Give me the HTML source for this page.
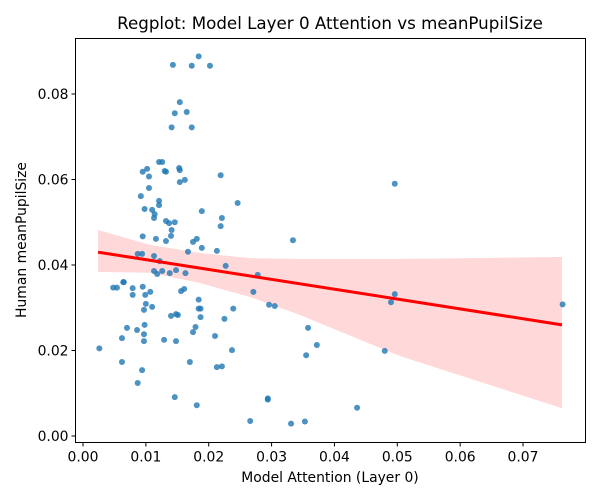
<!DOCTYPE html>
<html><head><meta charset="utf-8"><style>
body{margin:0;background:#fff;}
svg{display:block;font-family:"DejaVu Sans","Liberation Sans",sans-serif;}
</style></head><body>
<svg id="chart" width="600" height="500"></svg>
<script>
// data
const xVals=[0.0143,0.0184,0.0173,0.0202,0.0154,0.0146,0.0165,0.0141,0.0173,0.0121,0.0126,0.0102,0.0095,0.0105,0.0130,0.0132,0.0153,0.0154,0.0219,0.0154,0.0162,0.0105,0.0092,0.0121,0.0121,0.0246,0.0098,0.0110,0.0189,0.0114,0.0113,0.0221,0.0219,0.0132,0.0137,0.0146,0.0141,0.0095,0.0116,0.0140,0.0132,0.0175,0.0181,0.0189,0.0087,0.0113,0.0122,0.0167,0.0213,0.0227,0.0278,0.0094,0.0113,0.0118,0.0126,0.0148,0.0163,0.0138,0.0048,0.0054,0.0064,0.0065,0.0079,0.0079,0.0095,0.0099,0.0107,0.0100,0.0097,0.0110,0.0156,0.0161,0.0271,0.0184,0.0184,0.0187,0.0239,0.0148,0.0140,0.0151,0.0187,0.0225,0.0098,0.0070,0.0086,0.0097,0.0179,0.0175,0.0210,0.0062,0.0097,0.0129,0.0148,0.0237,0.0062,0.0170,0.0213,0.0221,0.0094,0.0087,0.0146,0.0181,0.0294,0.0266,0.0331,0.0372,0.0496,0.0296,0.0305,0.0496,0.0490,0.0763,0.0334,0.0358,0.0355,0.0480,0.0294,0.0436,0.0353,0.0026];
const yVals=[0.0868,0.0888,0.0866,0.0866,0.0781,0.0755,0.0758,0.0722,0.0722,0.0641,0.0641,0.0625,0.0618,0.0607,0.0620,0.0618,0.0627,0.0622,0.0610,0.0594,0.0599,0.0580,0.0561,0.0550,0.0540,0.0545,0.0531,0.0529,0.0526,0.0519,0.0510,0.0510,0.0491,0.0503,0.0498,0.0500,0.0482,0.0467,0.0461,0.0468,0.0456,0.0454,0.0461,0.0440,0.0426,0.0421,0.0409,0.0431,0.0433,0.0398,0.0377,0.0426,0.0386,0.0379,0.0386,0.0388,0.0381,0.0381,0.0347,0.0347,0.0360,0.0360,0.0346,0.0330,0.0349,0.0330,0.0337,0.0309,0.0295,0.0302,0.0339,0.0344,0.0337,0.0319,0.0298,0.0298,0.0298,0.0285,0.0281,0.0283,0.0278,0.0274,0.0260,0.0253,0.0248,0.0238,0.0255,0.0243,0.0234,0.0229,0.0222,0.0225,0.0222,0.0201,0.0173,0.0173,0.0161,0.0163,0.0154,0.0124,0.0091,0.0072,0.0085,0.0035,0.0029,0.0213,0.0590,0.0307,0.0304,0.0332,0.0313,0.0308,0.0458,0.0253,0.0189,0.0199,0.0088,0.0066,0.0034,0.0205];
// fitted regression line and confidence band
const fitX=[0.0024,0.0762];
const fitY=[0.0430,0.0260];
const bandX=[0.0024,0.0107,0.0186,0.0266,0.0345,0.0504,0.0762];
const bandUpper=[0.0482,0.0447,0.0428,0.0416,0.0414,0.0414,0.0419];
const bandLower=[0.0384,0.0382,0.0358,0.0325,0.0283,0.0187,0.0065];
const xTicks=[0,0.01,0.02,0.03,0.04,0.05,0.06,0.07];
const yTicks=[0,0.02,0.04,0.06,0.08];
const xTickLabels=["0.00","0.01","0.02","0.03","0.04","0.05","0.06","0.07"];
const yTickLabels=["0.00","0.02","0.04","0.06","0.08"];

const L=75.5,R=585.5,T=38.5,B=442.5;
const sx=v=>83+v*6286;
const sy=v=>436-v*4275;
const svg=document.getElementById('chart');
const NS='http://www.w3.org/2000/svg';
function mk(tag,attrs,parent){const e=document.createElementNS(NS,tag);for(const k in attrs)e.setAttribute(k,attrs[k]);(parent||svg).appendChild(e);return e;}

const up=bandX.map((x,i)=>sx(x)+','+sy(bandUpper[i]));
const lo=bandX.map((x,i)=>sx(x)+','+sy(bandLower[i])).reverse();
const band=mk('polygon',{points:up.concat(lo).join(' '),fill:'#ff0000','fill-opacity':'0.15',stroke:'none'});



const pts=mk('g',{});


for(let i=0;i<xVals.length;i++){const c=mk('circle',{cx:sx(xVals[i]),cy:sy(yVals[i]),r:3,fill:'#1f77b4','fill-opacity':'0.8'},pts);

}

const line=mk('line',{x1:sx(fitX[0]),y1:sy(fitY[0]),x2:sx(fitX[1]),y2:sy(fitY[1]),stroke:'#ff0000','stroke-width':3});



const frame=mk('rect',{x:L,y:T,width:R-L,height:B-T,fill:'none',stroke:'#000','stroke-width':1});



xTicks.forEach((v,i)=>{const x=sx(v);mk('line',{x1:x,y1:B,x2:x,y2:B+4,stroke:'#000'});
const t=mk('text',{x:x,y:B+19,'font-size':'13.9','text-anchor':'middle',fill:'#000'});t.textContent=xTickLabels[i];

});
yTicks.forEach((v,i)=>{const y=sy(v);mk('line',{x1:L-4,y1:y,x2:L,y2:y,stroke:'#000'});
const t=mk('text',{x:L-7,y:y+5,'font-size':'13.9','text-anchor':'end',fill:'#000'});t.textContent=yTickLabels[i];

});

const xt=mk('text',{x:330,y:482,'font-size':'13.9','text-anchor':'middle'});xt.textContent='Model Attention (Layer 0)';


const yt=mk('text',{x:0,y:0,'font-size':'13.9','text-anchor':'middle',transform:'translate(26,240) rotate(-90)'});yt.textContent='Human meanPupilSize';


const tt=mk('text',{x:330,y:29,'font-size':'16.7','text-anchor':'middle'});tt.textContent='Regplot: Model Layer 0 Attention vs meanPupilSize';


</script>
</body></html>
